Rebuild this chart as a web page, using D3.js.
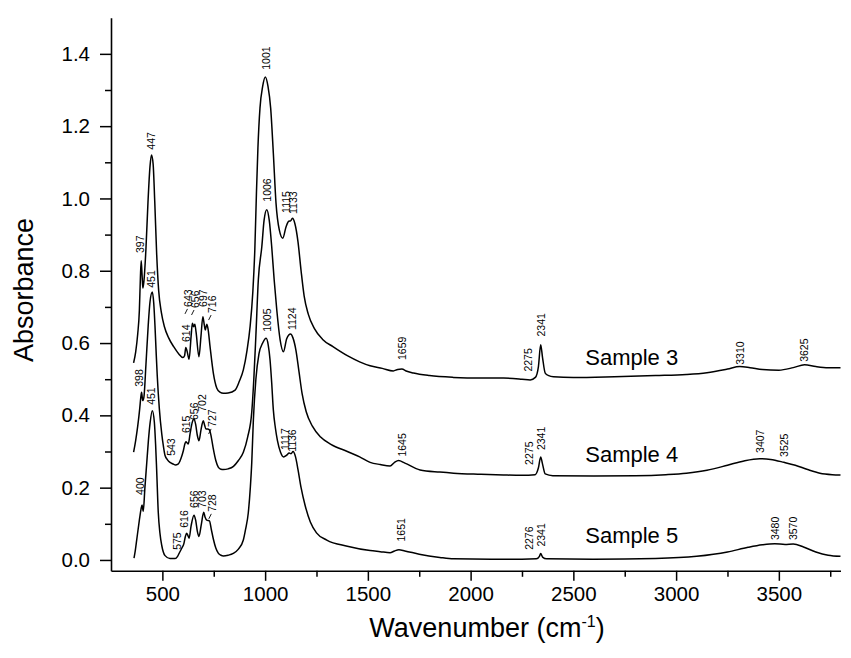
<!DOCTYPE html>
<html><head><meta charset="utf-8">
<script src="https://cdn.jsdelivr.net/npm/d3@7"></script>
<style>
body{margin:0;background:#fff;}
svg{display:block;font-family:"Liberation Sans",Arial,sans-serif;}
</style></head>
<body><svg id="c" width="851" height="658"></svg>
<script>
// ---- data ----
const xTicks = [500,1000,1500,2000,2500,3000,3500];
const xMinor = [750,1250,1750,2250,2750,3250,3750];
const yTicks = [0.0,0.2,0.4,0.6,0.8,1.0,1.2,1.4];
const yMinor = [0.1,0.3,0.5,0.7,0.9,1.1,1.3];

const sample3 = [[360,0.545],[370,0.575],[380,0.625],[388,0.69],[393,0.78],[397,0.828],[401,0.79],[405,0.752],[410,0.77],[420,0.86],[430,0.99],[440,1.09],[447,1.12],[455,1.095],[463,0.99],[472,0.85],[482,0.745],[495,0.685],[510,0.645],[530,0.615],[555,0.59],[580,0.57],[600,0.56],[608,0.565],[614,0.588],[620,0.578],[630,0.555],[640,0.62],[646,0.655],[652,0.645],[658,0.652],[664,0.63],[678,0.562],[688,0.62],[697,0.673],[704,0.65],[709,0.636],[716,0.652],[722,0.64],[732,0.59],[748,0.517],[765,0.475],[780,0.464],[797,0.461],[820,0.462],[854,0.47],[875,0.495],[894,0.526],[912,0.58],[927,0.646],[940,0.74],[950,0.86],[958,1.02],[965,1.14],[975,1.25],[988,1.31],[1001,1.336],[1014,1.31],[1027,1.25],[1040,1.125],[1053,0.987],[1069,0.913],[1086,0.89],[1102,0.922],[1115,0.937],[1124,0.938],[1133,0.945],[1145,0.93],[1160,0.88],[1175,0.8],[1190,0.73],[1210,0.68],[1240,0.64],[1280,0.61],[1330,0.59],[1400,0.565],[1460,0.548],[1511,0.537],[1570,0.53],[1624,0.523],[1645,0.527],[1665,0.528],[1690,0.522],[1722,0.517],[1800,0.51],[1916,0.505],[2050,0.503],[2160,0.503],[2250,0.5],[2290,0.498],[2315,0.505],[2330,0.535],[2341,0.595],[2350,0.56],[2363,0.517],[2380,0.51],[2403,0.507],[2500,0.505],[2700,0.507],[2900,0.51],[3050,0.513],[3150,0.518],[3250,0.528],[3310,0.535],[3360,0.532],[3420,0.527],[3500,0.525],[3570,0.532],[3625,0.54],[3680,0.535],[3740,0.532],[3800,0.532]];

const sample4 = [[360,0.298],[370,0.33],[380,0.37],[390,0.42],[395,0.45],[399,0.464],[404,0.441],[410,0.45],[420,0.54],[431,0.648],[440,0.715],[451,0.741],[458,0.71],[464,0.648],[470,0.57],[475,0.51],[485,0.42],[497,0.349],[505,0.315],[513,0.289],[525,0.277],[537,0.27],[550,0.266],[562,0.263],[578,0.266],[590,0.28],[602,0.302],[610,0.322],[615,0.327],[620,0.324],[626,0.321],[635,0.35],[645,0.38],[654,0.39],[662,0.375],[670,0.345],[678,0.33],[688,0.36],[699,0.385],[706,0.372],[712,0.362],[720,0.362],[729,0.36],[738,0.34],[748,0.307],[760,0.275],[772,0.257],[785,0.251],[797,0.25],[820,0.252],[846,0.259],[870,0.275],[894,0.298],[915,0.34],[935,0.409],[945,0.5],[955,0.62],[967,0.775],[984,0.867],[995,0.94],[1008,0.969],[1020,0.94],[1032,0.867],[1044,0.775],[1057,0.69],[1073,0.609],[1089,0.576],[1105,0.612],[1115,0.622],[1124,0.625],[1135,0.615],[1150,0.58],[1165,0.52],[1180,0.46],[1200,0.41],[1230,0.37],[1270,0.34],[1320,0.32],[1400,0.3],[1460,0.285],[1511,0.27],[1560,0.264],[1608,0.26],[1630,0.27],[1649,0.275],[1680,0.268],[1754,0.249],[1850,0.243],[1917,0.24],[2050,0.237],[2160,0.235],[2250,0.234],[2314,0.236],[2330,0.255],[2341,0.285],[2350,0.265],[2363,0.238],[2400,0.233],[2600,0.232],[2800,0.233],[2950,0.236],[3050,0.24],[3150,0.248],[3250,0.262],[3330,0.274],[3407,0.28],[3460,0.278],[3525,0.27],[3580,0.262],[3640,0.25],[3700,0.24],[3760,0.236],[3800,0.235]];

const sample5 = [[362,0.005],[368,0.025],[375,0.055],[388,0.11],[396,0.14],[401,0.152],[407,0.135],[415,0.2],[424,0.269],[432,0.33],[440,0.378],[451,0.413],[461,0.381],[467,0.32],[472,0.252],[480,0.132],[488,0.075],[497,0.04],[513,0.012],[537,0.004],[562,0.004],[574,0.01],[583,0.02],[595,0.033],[605,0.046],[612,0.065],[618,0.074],[624,0.068],[630,0.06],[640,0.095],[654,0.124],[662,0.11],[670,0.08],[678,0.065],[690,0.1],[701,0.132],[708,0.118],[716,0.11],[729,0.108],[738,0.085],[748,0.058],[760,0.033],[772,0.019],[785,0.013],[797,0.011],[820,0.013],[845,0.018],[870,0.03],[894,0.055],[905,0.085],[918,0.13],[928,0.2],[935,0.27],[943,0.39],[955,0.5],[970,0.57],[988,0.6],[1005,0.613],[1015,0.595],[1024,0.553],[1032,0.49],[1040,0.415],[1050,0.365],[1060,0.33],[1075,0.298],[1090,0.285],[1105,0.29],[1117,0.296],[1126,0.294],[1136,0.3],[1148,0.285],[1160,0.25],[1175,0.2],[1195,0.15],[1220,0.105],[1250,0.075],[1300,0.055],[1400,0.038],[1511,0.026],[1560,0.023],[1608,0.02],[1630,0.025],[1651,0.028],[1680,0.025],[1750,0.016],[1850,0.007],[1917,0.003],[2100,0.002],[2250,0.002],[2320,0.003],[2335,0.01],[2341,0.018],[2350,0.008],[2370,0.003],[2600,0.002],[2900,0.004],[3100,0.01],[3250,0.022],[3350,0.035],[3420,0.042],[3480,0.045],[3530,0.043],[3570,0.044],[3620,0.036],[3680,0.022],[3740,0.013],[3800,0.01]];

// peak labels: [wavenumber, absorbance at text start, text, leader]
const labels3 = [[393,0.849,"397"],[448,1.135,"447"],[615,0.603,"614"],[627,0.70,"643",1],[659,0.697,"656",1],[698,0.70,"697"],[742,0.683,"716",1],[1004,1.356,"1001"],[1102,0.96,"1115"],[1136,0.957,"1133"],[1668,0.553,"1659"],[2282,0.521,"2275"],[2343,0.618,"2341"],[3310,0.54,"3310"],[3624,0.548,"3625"]];
const labels4 = [[386,0.479,"398"],[448,0.753,"451"],[542,0.288,"543"],[615,0.351,"615"],[654,0.387,"656"],[695,0.41,"702"],[742,0.368,"727",1],[1008,0.991,"1006"],[1131,0.636,"1124"],[1668,0.286,"1645"],[2284,0.263,"2275"],[2343,0.304,"2341"],[3407,0.296,"3407"],[3525,0.285,"3525"]];
const labels5 = [[392,0.18,"400"],[448,0.429,"451"],[573,0.028,"575"],[605,0.089,"616"],[654,0.144,"656"],[694,0.144,"703"],[743,0.133,"728",1],[1008,0.631,"1005"],[1097,0.304,"1117"],[1131,0.299,"1136"],[1664,0.051,"1651"],[2284,0.028,"2276"],[2343,0.037,"2341"],[3480,0.055,"3480"],[3570,0.055,"3570"]];
const sampleNames = [[2558,0.54,"Sample 3"],[2558,0.272,"Sample 4"],[2558,0.046,"Sample 5"]];

// ---- chart ----
const svg = d3.select("#c");
const x = d3.scaleLinear().domain([250,3800]).range([111,840.5]);
const y = d3.scaleLinear().domain([-0.03,1.5]).range([570.8,17.7]);

const line = d3.line().x(d=>x(d[0])).y(d=>y(d[1])).curve(d3.curveMonotoneX);
[sample3,sample4,sample5].forEach(s=>{
  svg.append("path").attr("d",line(s)).attr("fill","none").attr("stroke","#000").attr("stroke-width",1.5).attr("stroke-linejoin","round");
});

// axes
const gx = svg.append("g").attr("transform",`translate(0,${y.range()[0]})`)
  .call(d3.axisBottom(x).tickValues(xTicks).tickSize(10).tickSizeOuter(0).tickPadding(5.5).tickFormat(d3.format("d")));
const gxm = svg.append("g").attr("transform",`translate(0,${y.range()[0]})`)
  .call(d3.axisBottom(x).tickValues(xMinor).tickSize(6).tickSizeOuter(0).tickFormat(""));
gxm.select(".domain").remove();
const gy = svg.append("g").attr("transform",`translate(${x.range()[0]},0)`)
  .call(d3.axisLeft(y).tickValues(yTicks).tickSize(11).tickSizeOuter(0).tickPadding(10).tickFormat(d3.format(".1f")));
const gym = svg.append("g").attr("transform",`translate(${x.range()[0]},0)`)
  .call(d3.axisLeft(y).tickValues(yMinor).tickSize(6).tickSizeOuter(0).tickFormat(""));
gym.select(".domain").remove();
svg.selectAll(".domain").attr("stroke","#000").attr("stroke-width",1.6);
svg.selectAll(".tick line").attr("stroke","#000").attr("stroke-width",1.5);
svg.selectAll(".tick text").attr("font-size",20.5).attr("font-family","Liberation Sans, Arial, sans-serif").attr("fill","#000");

// axis titles
svg.append("text").attr("x",487).attr("y",637).attr("text-anchor","middle").attr("font-size",27)
  .html('Wavenumber (cm<tspan dy="-10" font-size="16">-1</tspan><tspan dy="10">)</tspan>');
svg.append("text").attr("transform","translate(33,290) rotate(-90)").attr("text-anchor","middle").attr("font-size",27).text("Absorbance");

// peak labels
[labels3,labels4,labels5].forEach(L=>{
  L.forEach(d=>{
    const px = x(d[0]), py = y(d[1]);
    svg.append("text").attr("transform",`translate(${px},${py}) rotate(-90)`)
      .attr("dy","0.36em").attr("font-size",10.5).attr("fill","#000").text(d[2]);
    if(d[3]){
      svg.append("line").attr("x1",px-1).attr("y1",py+2).attr("x2",px-3.5).attr("y2",py+7)
        .attr("stroke","#000").attr("stroke-width",0.9);
    }
  });
});

// sample names
sampleNames.forEach(d=>{
  svg.append("text").attr("x",x(d[0])).attr("y",y(d[1])).attr("font-size",22).attr("fill","#000").text(d[2]);
});
</script></body></html>
